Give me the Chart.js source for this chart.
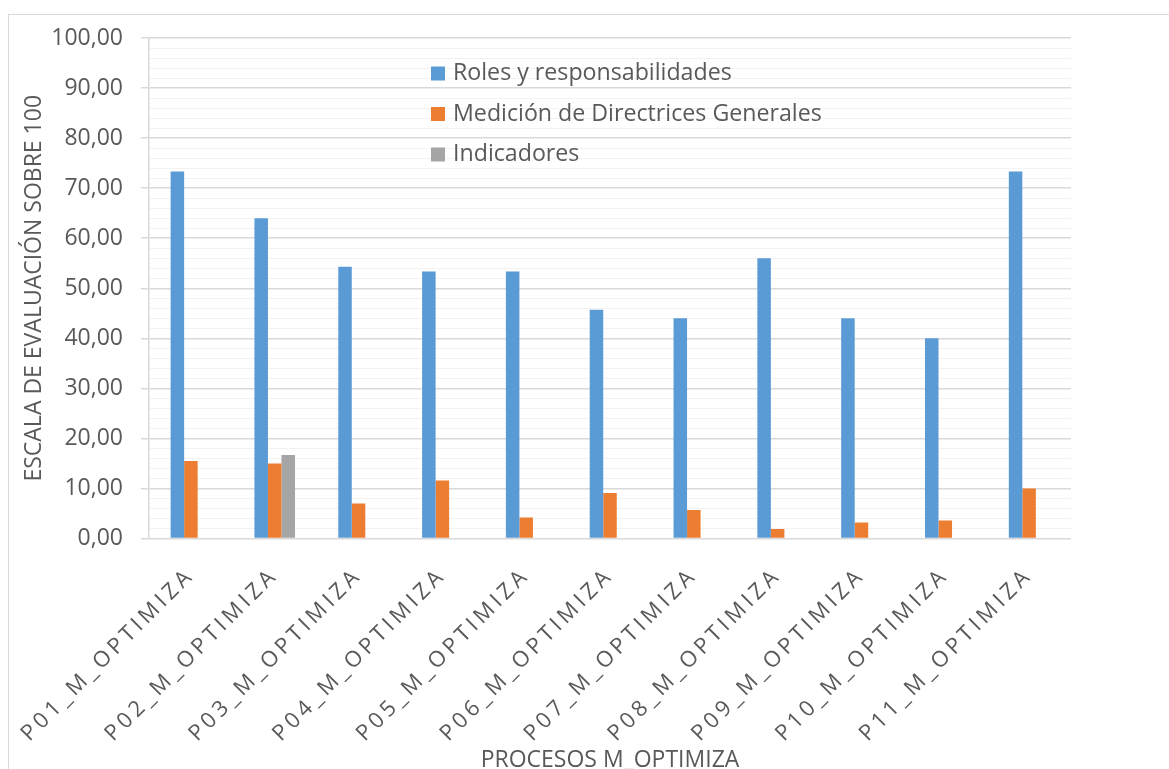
<!DOCTYPE html>
<html>
<head>
<meta charset="utf-8">
<script src="https://cdn.jsdelivr.net/npm/chart.js@4.4.1/dist/chart.umd.min.js"></script>
<style>
	html, body { margin: 0; padding: 0; background: #fff; overflow: hidden; }
	.frame { position: absolute; left: 8px; top: 14px; width: 1300px; height: 900px; border-top: 1.5px solid #d9d9d9; border-left: 1.5px solid #d9d9d9; }
	.wrap { position: absolute; left: 0; top: 0; width: 1169px; height: 790px; }
</style>
</head>
<body>
<div class="frame"></div>
<div class="wrap"><canvas id="grafico"></canvas></div>
<script>
// datos
const procesos = ['P01_M_OPTIMIZA', 'P02_M_OPTIMIZA', 'P03_M_OPTIMIZA', 'P04_M_OPTIMIZA', 'P05_M_OPTIMIZA', 'P06_M_OPTIMIZA',
	'P07_M_OPTIMIZA', 'P08_M_OPTIMIZA', 'P09_M_OPTIMIZA', 'P10_M_OPTIMIZA', 'P11_M_OPTIMIZA'];
const roles = [73.33, 64.00, 54.29, 53.33, 53.33, 45.71, 44.00, 56.00, 44.00, 40.00, 73.33];
const directrices = [15.5, 15.0, 7.0, 11.6, 4.2, 9.1, 5.7, 1.9, 3.2, 3.6, 10.0];
const indicadores = [0, 16.67, 0, 0, 0, 0, 0, 0, 0, 0, 0];
const series = ['Roles y responsabilidades', 'Medición de Directrices Generales', 'Indicadores'];
const colores = ['#5b9bd5', '#ed7d31', '#a5a5a5'];

const gris = '#595959';
Chart.defaults.font.family = '"Open Sans", sans-serif';
Chart.defaults.color = gris;

// eje de categorias con letras separadas, como en el original
class SpacedCategory extends Chart.CategoryScale {
	drawLabels(area) {
		this.ctx.save();
		this.ctx.letterSpacing = '4px';
		super.drawLabels(area);
		this.ctx.restore();
	}
}
SpacedCategory.id = 'spacedCategory';
SpacedCategory.defaults = Chart.CategoryScale.defaults;
Chart.register(SpacedCategory);

// leyenda dentro del area del grafico
const leyendaInterna = {
	id: 'leyendaInterna',
	afterDraw(chart) {
		const ctx = chart.ctx, area = chart.chartArea;
		ctx.save();
		ctx.font = '23.2px "Open Sans", sans-serif';
		ctx.textBaseline = 'middle';
		chart.data.datasets.forEach(function(ds, i) {
			const x = area.left + 282, y = area.top + 35.5 + i * 40.5;
			ctx.fillStyle = ds.backgroundColor;
			ctx.fillRect(x, y - 7, 14, 14);
			ctx.fillStyle = gris;
			ctx.fillText(ds.label, x + 22, y);
		});
		ctx.restore();
	}
};

const esMayor = (c) => c.tick && c.tick.value % 10 === 0;

new Chart(document.getElementById('grafico'), {
	type: 'bar',
	plugins: [leyendaInterna],
	data: {
		labels: procesos,
		datasets: [
			{ label: series[0], data: roles, backgroundColor: colores[0] },
			{ label: series[1], data: directrices, backgroundColor: colores[1] },
			{ label: series[2], data: indicadores, backgroundColor: colores[2] }
		]
	},
	options: {
		responsive: true,
		maintainAspectRatio: false,
		animation: false,
		layout: { padding: { left: 0, top: 38, right: 98, bottom: 0 } },
		datasets: { bar: { categoryPercentage: 0.484, barPercentage: 1, borderWidth: 0 } },
		plugins: {
			legend: { display: false },
			tooltip: { enabled: false }
		},
		scales: {
			x: {
				type: 'spacedCategory',
				afterFit: function(s) { s.height = 251.5; },
				grid: { display: false, drawTicks: false },
				border: { display: false },
				ticks: { autoSkip: false, minRotation: 45, maxRotation: 45, padding: 24, color: gris, font: { size: 22 } },
				title: { display: true, text: 'PROCESOS M_OPTIMIZA', color: gris, font: { size: 23 }, padding: { top: 0, bottom: 16 } }
			},
			y: {
				min: 0,
				max: 100,
				afterFit: function(s) { s.width = 149; },
				ticks: {
					stepSize: 2,
					autoSkip: false,
					padding: 18,
					color: gris,
					font: { size: 23 },
					callback: function(v) { return v % 10 === 0 ? v.toFixed(2).replace('.', ',') : ''; }
				},
				grid: {
					color: (c) => esMayor(c) ? '#d9d9d9' : '#f2f2f2',
					lineWidth: (c) => esMayor(c) ? 1.5 : 1,
					tickColor: (c) => esMayor(c) ? '#d9d9d9' : 'rgba(0,0,0,0)',
					tickLength: 8
				},
				border: { color: '#d9d9d9', width: 1.5 },
				title: { display: true, text: 'ESCALA DE EVALUACIÓN SOBRE 100', color: gris, font: { size: 23 }, padding: { top: 21, bottom: 0 } }
			}
		}
	}
});
</script>
</body>
</html>
